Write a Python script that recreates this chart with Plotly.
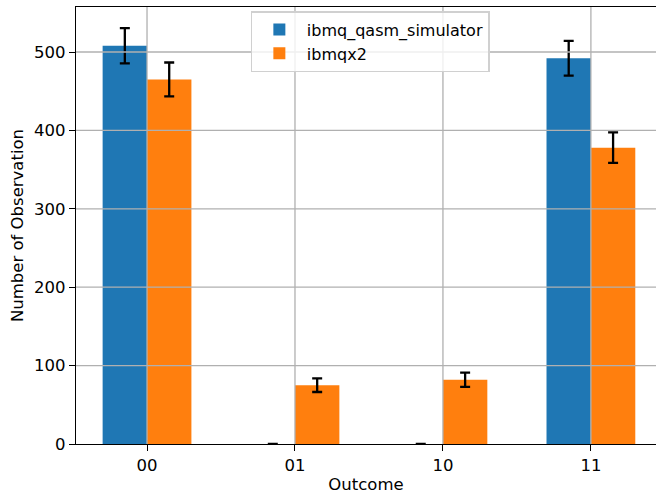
import plotly.graph_objects as go

# Measured outcome counts for a two-qubit circuit (1000 shots per backend)
outcomes = ["00", "01", "10", "11"]
sim_counts = [508, 0, 0, 492]
dev_counts = [465, 75, 82, 378]
sim_err = [22.5, 0, 0, 22.2]
dev_err = [21.6, 8.7, 9.1, 19.4]
y_ticks = [0, 100, 200, 300, 400, 500]

positions = list(range(len(outcomes)))
bar_w = 0.3

fig = go.Figure()
fig.add_trace(go.Bar(
    x=positions, y=sim_counts, name="ibmq_qasm_simulator",
    width=bar_w, offset=-bar_w, marker=dict(color="#1f77b4", line=dict(width=0)),
    error_y=dict(type="data", array=sim_err, color="black", thickness=2.3, width=5),
))
fig.add_trace(go.Bar(
    x=positions, y=dev_counts, name="ibmqx2",
    width=bar_w, offset=0, marker=dict(color="#ff7f0e", line=dict(width=0)),
    error_y=dict(type="data", array=dev_err, color="black", thickness=2.3, width=5),
))

# grid drawn over the bars
grid = dict(color="#b0b0b0", width=1.3)
for p in positions:
    fig.add_shape(type="line", xref="x", yref="paper", x0=p, x1=p, y0=0, y1=1,
                  line=grid, layer="above")
for t in y_ticks[1:]:
    fig.add_shape(type="line", xref="paper", yref="y", x0=0, x1=1, y0=t, y1=t,
                  line=grid, layer="above")

fs = 16.5
font = dict(family="DejaVu Sans", size=fs, color="black")
fig.update_layout(
    width=656, height=494,
    margin=dict(l=76, r=0, t=7, b=50),
    plot_bgcolor="white", paper_bgcolor="white",
    barmode="overlay", font=font, showlegend=True,
    legend=dict(x=0.507, y=0.99, xanchor="center", yanchor="top",
                bgcolor="rgba(255,255,255,0.8)", bordercolor="#d0d0d0", borderwidth=1.3,
                font=dict(family="DejaVu Sans", size=16, color="black"),
                tracegroupgap=0, itemwidth=45),
    xaxis=dict(range=[-0.48, 3.44], tickvals=positions, ticktext=outcomes,
               showgrid=False, zeroline=False, showline=True, linecolor="black",
               linewidth=1.3, mirror=True, ticks="outside", ticklen=6, tickcolor="black",
               tickwidth=1.3, automargin=False,
               title=dict(text="Outcome", font=dict(family="DejaVu Sans", size=fs), standoff=4),
               tickfont=dict(family="DejaVu Sans", size=fs)),
    yaxis=dict(range=[0, 557.4], tickvals=y_ticks, showgrid=False, zeroline=False,
               showline=True, linecolor="black", linewidth=1.3, ticks="outside",
               ticklen=6, tickcolor="black", tickwidth=1.3, automargin=False,
               title=dict(text="Number of Observation", font=dict(family="DejaVu Sans", size=fs), standoff=6),
               tickfont=dict(family="DejaVu Sans", size=fs)),
)

fig.write_html("out.html")
